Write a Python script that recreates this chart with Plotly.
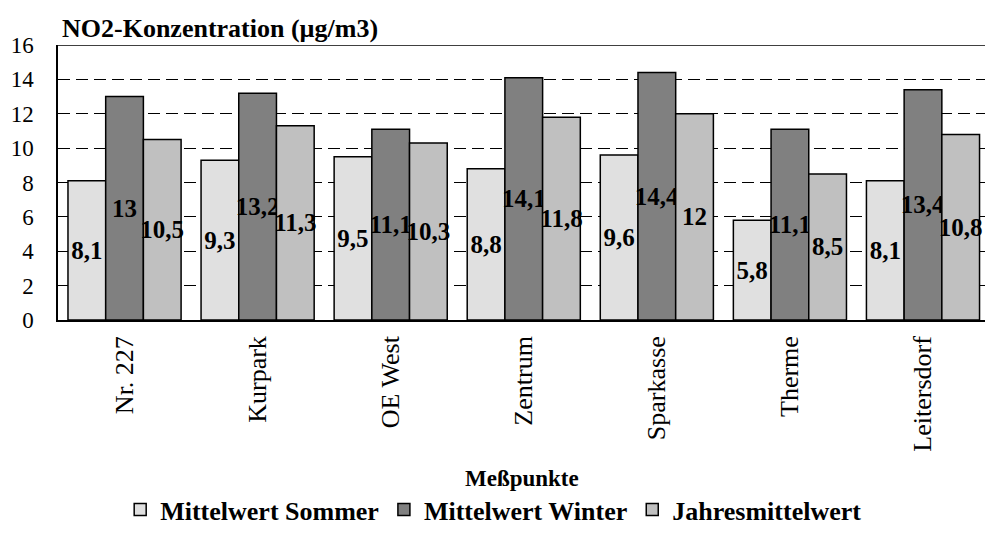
import plotly.graph_objects as go

categories = ["Nr. 227", "Kurpark", "OE West", "Zentrum", "Sparkasse", "Therme", "Leitersdorf"]
sommer = [8.1, 9.3, 9.5, 8.8, 9.6, 5.8, 8.1]
winter = [13.0, 13.2, 11.1, 14.1, 14.4, 11.1, 13.4]
jahr = [10.5, 11.3, 10.3, 11.8, 12.0, 8.5, 10.8]
series_names = ["Mittelwert Sommer", "Mittelwert Winter", "Jahresmittelwert"]
series_colors = ["#e0e0e0", "#808080", "#c0c0c0"]
y_ticks = [0, 2, 4, 6, 8, 10, 12, 14, 16]

FONT = "Times New Roman, Liberation Serif, serif"

def fmt(v):
    s = ("%g" % v).replace(".", ",")
    return s

fig = go.Figure()
for name, vals, col in zip(series_names, [sommer, winter, jahr], series_colors):
    fig.add_trace(go.Bar(
        x=categories, y=vals, name="<b>%s</b>" % name,
        marker=dict(color=col, line=dict(color="black", width=1.5)),
        text=["<b>%s</b>" % fmt(v) for v in vals],
        textposition="inside", insidetextanchor="middle", textangle=0,
        constraintext="none",
        textfont=dict(family=FONT, size=25, color="black"),
        cliponaxis=False,
    ))

fig.update_layout(
    width=985, height=533,
    margin=dict(l=58, r=0, t=45, b=211),
    paper_bgcolor="white", plot_bgcolor="white",
    barmode="group", bargap=0.15, bargroupgap=0,
    font=dict(family=FONT, size=22, color="black"),
    showlegend=True,
    legend=dict(orientation="h", x=0.47, xanchor="center", y=-0.69, yanchor="middle",
                font=dict(family=FONT, size=26, color="black"),
                itemwidth=30, tracegroupgap=0),
    xaxis=dict(range=[-0.5, 6.466], showline=True, linecolor="black", linewidth=1.5,
               showgrid=False, ticks="", tickangle=-90, ticklabelstandoff=4,
               tickfont=dict(family=FONT, size=26, color="black")),
    yaxis=dict(range=[0, 16], tickvals=y_ticks, showline=True, linecolor="black",
               linewidth=1.5, showgrid=True, gridcolor="black", gridwidth=1,
               griddash="12px,6px", ticks="", ticklabelstandoff=18, zeroline=False,
               tickfont=dict(family=FONT, size=23, color="black")),
    shapes=[dict(type="line", xref="paper", yref="y", x0=0, x1=1, y0=16, y1=16,
                 line=dict(color="black", width=1.5))],
    annotations=[
        dict(text="<b>NO2-Konzentration (µg/m3)</b>", xref="paper", yref="paper", x=0.002, y=1.0,
             xanchor="left", yanchor="bottom", yshift=0, showarrow=False,
             font=dict(family=FONT, size=26, color="black")),
        dict(text="<b>Meßpunkte</b>", xref="paper", yref="paper", x=0.5, y=-0.578,
             xanchor="center", yanchor="middle", showarrow=False,
             font=dict(family=FONT, size=23, color="black")),
    ],
)

fig.write_html("out.html")
